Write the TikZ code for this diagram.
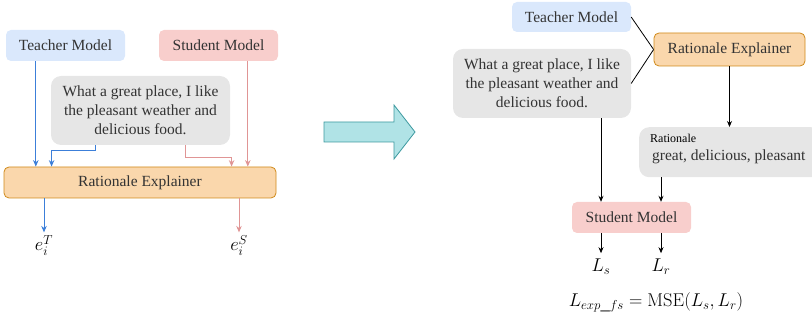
\RequirePackage{fix-cm}
\documentclass[tikz,border=0pt]{standalone}
\usepackage[no-math]{fontspec}
\setmainfont{Liberation Serif}
\usetikzlibrary{arrows.meta,calc}
\definecolor{tbfill}{HTML}{DAE8FC}
\definecolor{sbfill}{HTML}{F8CECC}
\definecolor{gbfill}{HTML}{E6E6E6}
\definecolor{rbfill}{HTML}{FAD7AC}
\definecolor{rbdraw}{HTML}{D08A1A}
\definecolor{txt}{HTML}{333333}
\definecolor{barr}{HTML}{3C7FD9}
\definecolor{rarr}{HTML}{E09595}
\definecolor{bigfill}{HTML}{B0E3E6}
\definecolor{bigdraw}{HTML}{3E9AA0}
\begin{document}
\begin{tikzpicture}[x=1pt,y=-1pt,
  font=\fontsize{15.5}{19}\selectfont,
  box/.style={rounded corners=5pt, inner sep=0pt, align=center, text=txt},
  gbox/.style={box, rounded corners=10pt, fill=gbfill},
  blu/.style={draw=barr, line width=1pt, -{Stealth[length=6.5pt,width=5.5pt]}},
  red/.style={draw=rarr, line width=1pt, -{Stealth[length=6.5pt,width=5.5pt]}},
  blk/.style={draw=black, line width=0.8pt, -{Stealth[length=6pt,width=5pt]}},
  lnk/.style={draw=black, line width=0.8pt},
  mth/.style={inner sep=0pt, font=\fontsize{18.5}{22}\selectfont}]
\useasboundingbox (0,0) rectangle (812,320);

% ---------- left ----------
\node[box, fill=tbfill, minimum width=119pt, minimum height=31pt] (tL) at (65.5,45.5) {Teacher Model};
\node[box, fill=sbfill, minimum width=119pt, minimum height=31pt] (sL) at (218.5,45.5) {Student Model};
\node[gbox, minimum width=179pt, minimum height=69pt] (xL) at (140.5,110.5) {What a great place, I like\\the pleasant weather and\\delicious food.};
\node[box, fill=rbfill, draw=rbdraw, line width=0.8pt, minimum width=272pt, minimum height=31pt] (rL) at (140,182.5) {Rationale Explainer};
\node[mth, anchor=north] (eT) at (44,235) {$e_i^T$};
\node[mth, anchor=north] (eS) at (239,235) {$e_i^S$};

\draw[blu] ([xshift=30pt]tL.south west) -- ([xshift=30pt]tL.south west |- rL.north);
\draw[blu] ([xshift=45pt]xL.south west) -- ++(0,5) -| ([xshift=48pt]rL.north west);
\draw[red] ([xshift=134.5pt]xL.south west) -- ++(0,12) -| ([xshift=228pt]rL.north west);
\draw[red] ([xshift=89pt]sL.south west) -- ([xshift=89pt]sL.south west |- rL.north);
\draw[blu] (eT.north |- rL.south) -- ++(0,34);
\draw[red] (eS.north |- rL.south) -- ++(0,34);

% ---------- big arrow ----------
\draw[fill=bigfill, draw=bigdraw, line width=0.8pt, line join=miter]
  (324,122) -- (394,122) -- (394,105) -- (415,132) -- (394,159) -- (394,142) -- (324,142) -- cycle;

% ---------- right ----------
\node[box, fill=tbfill, minimum width=119pt, minimum height=30pt] (tR) at (571.5,17) {Teacher Model};
\node[box, fill=rbfill, draw=rbdraw, line width=0.8pt, minimum width=151pt, minimum height=33pt] (eR) at (729.5,49.5) {Rationale Explainer};
\node[gbox, minimum width=178pt, minimum height=69pt] (xR) at (542,83.5) {What a great place, I like\\the pleasant weather and\\delicious food.};
\node[gbox, anchor=north west, minimum width=182pt, minimum height=50pt] (ratR) at (639,127) {};
\node[inner sep=0pt, anchor=west, text=black, font=\fontsize{12}{14}\selectfont] (ratT) at (650,138) {Rationale};
\node[inner sep=0pt, anchor=west, text=txt] (ratW) at (652,157) {great, delicious, pleasant};
\node[box, fill=sbfill, minimum width=119pt, minimum height=31pt] (sR) at (631.5,217.5) {Student Model};
\node[mth] (Ls) at (601,267) {$L_s$};
\node[mth] (Lr) at (661,267) {$L_r$};
\node[mth] (eq) at (656,302) {$L_{exp\_fs} = \mathrm{MSE}(L_s, L_r)$};

\draw[lnk] (tR.east) -- (eR.west);
\draw[lnk] (xR.east) -- (eR.west);
\draw[blk] (eR.south) -- (eR.south |- ratR.north);
\draw[blk] (Ls.north |- xR.south) -- (Ls.north |- sR.north);
\draw[blk] (Lr.north |- ratR.south) -- (Lr.north |- sR.north);
\draw[blk] (Ls.north |- sR.south) -- ++(0,20);
\draw[blk] (Lr.north |- sR.south) -- ++(0,20);
\end{tikzpicture}
\end{document}
